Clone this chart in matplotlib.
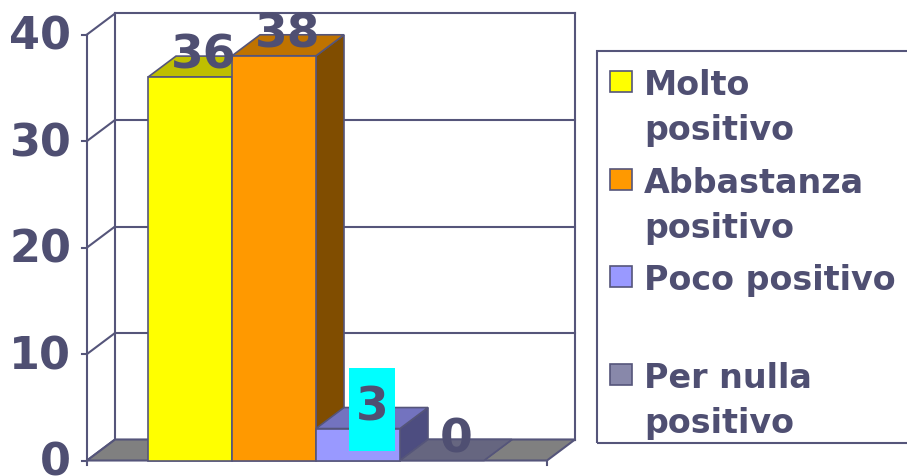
import matplotlib.pyplot as plt
from matplotlib.colors import to_rgb
from matplotlib.patches import Polygon, Rectangle

# dati
categorie = ['Molto\npositivo', 'Abbastanza\npositivo', 'Poco positivo', 'Per nulla\npositivo']
valori = [36, 38, 3, 0]
colori = ['#FFFF00', '#FF9900', '#9999FF', '#8888AA']
tick_y = [0, 10, 20, 30, 40]

LINEA = '#55557A'
TESTO = '#4F4F72'
W, H = 907, 477


def scuro(c, f):
    r, g, b = to_rgb(c)
    return (r * f, g * f, b * f)


fig = plt.figure(figsize=(W / 100, H / 100), dpi=100)
ax = fig.add_axes([0, 0, 1, 1])
# assi che coprono tutta la figura: barra i centrata in x=i, larga 84 px
ax.set_xlim(-190 / 84, (W - 190) / 84)
ax.set_ylim(-15.5 / 10.65, (H - 15.5) / 10.65)
ax.axis('off')

dx, dy = 28 / 84, 21 / 10.65     # profondita' 3D
x0, x1 = -1.226, 4.25            # bordo anteriore del pavimento

# pareti: griglia sul fondo e diagonali sulla parete sinistra
for t in tick_y:
    ax.plot([x0 + dx, x1 + dx], [t + dy, t + dy], color=LINEA, lw=1.5, zorder=1)
    ax.plot([x0, x0 + dx], [t, t + dy], color=LINEA, lw=1.5, zorder=1)
    ax.plot([x0 - 5 / 84, x0], [t, t], color=LINEA, lw=1.5, zorder=1)
    ax.text(x0 - 16 / 84, t - 0.15, str(t), ha='right', va='center', fontsize=32,
            weight='bold', color=TESTO)
ymax = max(tick_y)
ax.plot([x0, x0], [0, ymax], color=LINEA, lw=1.5, zorder=1)
ax.plot([x0 + dx, x0 + dx], [dy, ymax + dy], color=LINEA, lw=1.5, zorder=1)
ax.plot([x1 + dx, x1 + dx], [dy, ymax + dy], color=LINEA, lw=1.5, zorder=1)

# pavimento
ax.add_patch(Polygon([(x0, 0), (x1, 0), (x1 + dx, dy), (x0 + dx, dy)],
                     closed=True, facecolor='#808080', edgecolor=LINEA, lw=1.5, zorder=2))
ax.plot([x0, x0], [0, -0.4], color=LINEA, lw=1.5, zorder=2)
ax.plot([x1, x1], [0, -0.4], color=LINEA, lw=1.5, zorder=2)

# barre 3D
for i, (v, c) in enumerate(zip(valori, colori)):
    z = 3 + 3 * i
    l, r = i - 0.5, i + 0.5
    ax.add_patch(Polygon([(r, 0), (r, v), (r + dx, v + dy), (r + dx, dy)], closed=True,
                         facecolor=scuro(c, 0.5), edgecolor=LINEA, lw=1.2, zorder=z))
    ax.add_patch(Polygon([(l, v), (r, v), (r + dx, v + dy), (l + dx, v + dy)], closed=True,
                         facecolor=scuro(c, 0.75), edgecolor=LINEA, lw=1.2, zorder=z + 1))
    if v > 0:
        ax.bar(i, v, width=1, color=c, edgecolor=LINEA, linewidth=1.2, zorder=z + 2)

# etichette dei valori (quella del 3 su fondo ciano)
for i, v in enumerate(valori):
    xt, yt = i + dx / 2, v + dy / 2 + 1.05
    if v == 3:
        ax.add_patch(Rectangle((xt - 23 / 84, yt - 44 / 10.65), 46 / 84, 83 / 10.65,
                               facecolor='#00FFFF', edgecolor='none', zorder=29))
    ax.text(xt, yt, str(v), ha='center', va='center', fontsize=34,
            weight='bold', color=TESTO, zorder=30)

# legenda
fig.patches.append(Rectangle((597 / W, 1 - 444 / H), (915 - 597) / W, (444 - 52) / H,
                             transform=fig.transFigure, fill=False, edgecolor=LINEA, lw=1.5))
for k, (lab, c) in enumerate(zip(categorie, colori)):
    base = 95 + 97.7 * k
    fig.patches.append(Rectangle((610 / W, 1 - (base - 2) / H), 22 / W, 21 / H,
                                 transform=fig.transFigure, facecolor=c, edgecolor=LINEA, lw=1.2))
    for j, riga in enumerate(lab.split('\n')):
        fig.text(644 / W, 1 - (base + 45 * j) / H, riga, ha='left', va='baseline',
                 fontsize=24, weight='bold', color=TESTO)

fig.savefig('out.png', dpi=100)
